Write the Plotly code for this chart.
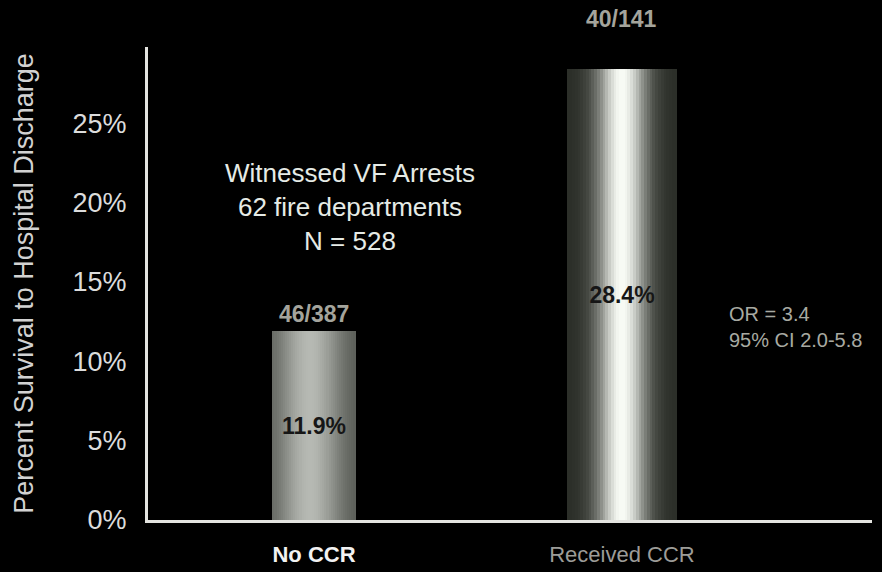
import math
import plotly.graph_objects as go

# Survival to hospital discharge, witnessed VF arrests
categories = ["No CCR", "Received CCR"]
survival_pct = [11.9, 28.4]
counts = ["46/387", "40/141"]
y_ticks = [0, 5, 10, 15, 20, 25]
y_tick_labels = ["0%", "5%", "10%", "15%", "20%", "25%"]

FONT = "Arial, Liberation Sans, sans-serif"
bar_widths = [0.27, 0.36]

# Cylinder shading profile for each bar: (edge grey, peak grey, highlight centre, spread)
shade = [(80, 182, 0.45, 0.38), (42, 248, 0.5, 0.22)]
N_STRIPS = 40


def strip_color(profile, t):
    edge, peak, c, s = profile
    v = edge + (peak - edge) * math.exp(-((t - c) / s) ** 2)
    v = int(round(v))
    return f"rgb({v},{min(255, v + 3)},{max(0, v - 3)})"


fig = go.Figure()

for i in range(N_STRIPS):
    t = (i + 0.5) / N_STRIPS
    fig.add_trace(go.Bar(
        x=categories,
        y=survival_pct,
        width=[w / N_STRIPS * 1.02 for w in bar_widths],
        offset=[-w / 2 + i * w / N_STRIPS for w in bar_widths],
        marker=dict(color=[strip_color(p, t) for p in shade], line=dict(width=0)),
        hoverinfo="skip",
        showlegend=False,
    ))

# Transparent full-width bar carrying the value labels
fig.add_trace(go.Bar(
    x=categories,
    y=survival_pct,
    width=bar_widths,
    marker=dict(color="rgba(0,0,0,0)", line=dict(width=0)),
    text=[f"{v}%" for v in survival_pct],
    textposition="inside",
    insidetextanchor="middle",
    textangle=0,
    constraintext="none",
    textfont=dict(family=FONT, size=23, color="#161616", weight="bold"),
    showlegend=False,
))

# Counts above each bar
count_shift = [2, 35]
for cat, val, txt, sh in zip(categories, survival_pct, counts, count_shift):
    fig.add_annotation(
        x=cat, y=val, xref="x", yref="y", text=f"<b>{txt}</b>",
        showarrow=False, yanchor="bottom", yshift=sh,
        font=dict(family=FONT, size=23, color="#a4a49c"),
    )

fig.add_annotation(
    x=0.279, y=0.661, xref="paper", yref="paper",
    xanchor="center", yanchor="middle",
    text="Witnessed VF Arrests<br>62 fire departments<br>N = 528",
    showarrow=False, align="center",
    font=dict(family=FONT, size=26, color="#e6ebe6"),
)

fig.add_annotation(
    x=0.80, y=0.409, xref="paper", yref="paper",
    xanchor="left", yanchor="middle",
    text="OR = 3.4<br>95% CI 2.0-5.8",
    showarrow=False, align="left",
    font=dict(family=FONT, size=20, color="#a8aaa2"),
)

fig.update_layout(
    width=882, height=572,
    margin=dict(l=148, r=10, t=47, b=52, autoexpand=False),
    paper_bgcolor="black", plot_bgcolor="black",
    barmode="overlay", bargap=0,
    font=dict(family=FONT, color="#dcdcdc"),
    xaxis=dict(
        type="category",
        range=[-0.539, 1.812],
        tickvals=categories,
        ticktext=["<b>No CCR</b>",
                  "<span style='color:#9c9c98'>Received CCR</span>"],
        tickfont=dict(family=FONT, size=22, color="#f2f2f2"),
        showline=True, linecolor="#e4e4e0", linewidth=3,
        ticks="", ticklabelstandoff=13,
        showgrid=False, zeroline=False, automargin=False,
    ),
    yaxis=dict(
        range=[0, 29.8],
        tickvals=y_ticks, ticktext=y_tick_labels,
        tickfont=dict(family=FONT, size=27, color="#dcdcdc"),
        showline=True, linecolor="#e4e4e0", linewidth=3,
        ticks="", ticklabelstandoff=13,
        showgrid=False, zeroline=False, automargin=False,
        title=dict(text="Percent Survival to Hospital Discharge",
                   font=dict(family=FONT, size=27, color="#d2d2d2"),
                   standoff=32),
    ),
)

fig.write_html("out.html")
